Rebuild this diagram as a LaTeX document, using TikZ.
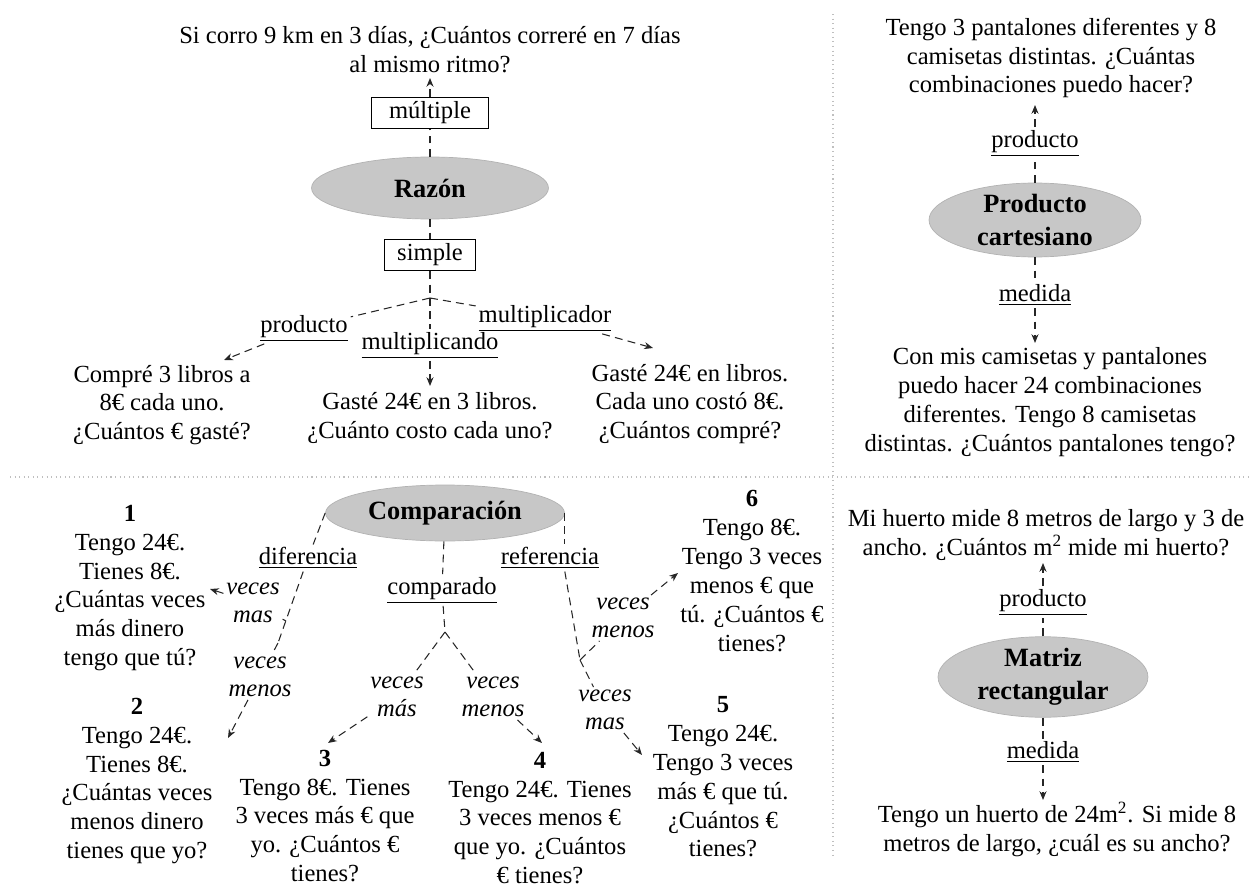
\documentclass[tikz,border=0pt]{standalone}
\usepackage{fontspec}
\setmainfont{Liberation Serif}
\usepackage{tikz}
\usetikzlibrary{shapes.geometric, arrows.meta}

\begin{document}
\begin{tikzpicture}[x=0.02cm, y=-0.02cm, every node/.style={font=\fontsize{14}{16.4}\selectfont, align=center, inner sep=1.5pt}]
    \tikzset{
        elipse/.style={ellipse, fill=black!22, draw=black!30, inner sep=0pt, font=\fontsize{15}{18.7}\selectfont\bfseries},
        caja/.style={draw, line width=1.1pt, minimum height=0.62cm, inner xsep=6pt},
        linea/.style={dash pattern=on 4.5pt off 3pt, line width=0.6pt, black!85},
        flecha/.style={linea, -{Stealth[length=5pt, width=4pt]}},
        veces/.style={font=\fontsize{14}{16}\selectfont\itshape},
        divisor/.style={black!25, dotted, line width=0.6pt}
    }
    \useasboundingbox (0,0) rectangle (1249,889);

    % Trennlinien
    \draw[divisor] (10,477) -- (1249,477);
    \draw[divisor] (833,14) -- (833,858);

    % --- Razon ---
    \node (q1) at (430,50) {Si corro 9 km en 3 días, ¿Cuántos correré en 7 días\\al mismo ritmo?};
    \coordinate (q1p) at (430,78);
    \node[caja, minimum width=2.34cm] (mul) at (430,113) {múltiple};
    \node[elipse, minimum width=4.74cm, minimum height=1.24cm] (raz) at (430,188) {Razón};
    \node[caja, minimum width=1.82cm] (sim) at (430,255) {simple};
    \coordinate (bp) at (430,298);
    \node (lprod) at (304,328) {\underline{producto}};
    \node (lmcdo) at (430,345) {\underline{multiplicando}};
    \node (lmcdr) at (545,318) {\underline{multiplicador}};
    \coordinate (pA) at (224,360);
    \coordinate (pB) at (430,386);
    \coordinate (pC) at (653,348);
    \node (tA) at (162,405) {Compré 3 libros a\\8€ cada uno.\\¿Cuántos € gasté?};
    \node (tB) at (430,418) {Gasté 24€ en 3 libros.\\¿Cuánto costo cada uno?};
    \node (tC) at (690,404) {Gasté 24€ en libros.\\Cada uno costó 8€.\\¿Cuántos compré?};

    \draw[flecha] (raz) -- (mul) -- (q1p);
    \draw[linea] (raz) -- (sim) -- (bp);
    \draw[flecha] (bp) -- (lprod) -- (pA);
    \draw[flecha] (bp) -- (lmcdo) -- (pB);
    \draw[flecha] (bp) -- (lmcdr) -- (pC);

    % --- Producto cartesiano ---
    \node (q2) at (1051,58) {Tengo 3 pantalones diferentes y 8\\camisetas distintas. ¿Cuántas\\combinaciones puedo hacer?};
    \coordinate (q2p) at (1035,105);
    \node (lpr2) at (1035,143) {\underline{producto}};
    \node[elipse, minimum width=4.24cm, minimum height=1.48cm] (pcart) at (1035,220) {Producto\\cartesiano};
    \node (lmed2) at (1035,295) {\underline{medida}};
    \coordinate (r2p) at (1035,343);
    \node (r2) at (1050,402) {Con mis camisetas y pantalones\\puedo hacer 24 combinaciones\\diferentes. Tengo 8 camisetas\\distintas. ¿Cuántos pantalones tengo?};

    \draw[flecha] (pcart) -- (lpr2) -- (q2p);
    \draw[flecha] (pcart) -- (lmed2) -- (r2p);

    % --- Matriz rectangular ---
    \node (q3) at (1046,535) {Mi huerto mide 8 metros de largo y 3 de\\ancho. ¿Cuántos m\textsuperscript{2} mide mi huerto?};
    \coordinate (q3p) at (1043,563);
    \node (lpr3) at (1043,602) {\underline{producto}};
    \node[elipse, minimum width=4.2cm, minimum height=1.54cm] (matr) at (1043,677) {Matriz\\rectangular};
    \node (lmed3) at (1043,752) {\underline{medida}};
    \coordinate (r3p) at (1043,800);
    \node (r3) at (1057,829) {Tengo un huerto de 24m\textsuperscript{2}. Si mide 8\\metros de largo, ¿cuál es su ancho?};

    \draw[flecha] (matr) -- (lpr3) -- (q3p);
    \draw[flecha] (matr) -- (lmed3) -- (r3p);

    % --- Comparacion ---
    \node[elipse, minimum width=4.78cm, minimum height=1.12cm] (comp) at (445,513) {Comparación};
    \node (ldif) at (308,558) {\underline{diferencia}};
    \node (lcmp) at (442,590) {\underline{comparado}};
    \node (lref) at (550,558) {\underline{referencia}};
    \coordinate (cB) at (286,621);
    \coordinate (cD) at (278,643);
    \coordinate (cC) at (445,632);
    \coordinate (cR) at (580,660);

    \node[veces] (v1) at (253,603) {veces\\mas};
    \node[veces] (v2) at (260,677) {veces\\menos};
    \node[veces] (v3) at (397,697) {veces\\más};
    \node[veces] (v4) at (493,697) {veces\\menos};
    \node[veces] (v6) at (623,618) {veces\\menos};
    \node[veces] (v5) at (605,710) {veces\\mas};

    \coordinate (p1) at (210,589);
    \coordinate (p2) at (228,738);
    \coordinate (p3) at (328,743);
    \coordinate (p4) at (542,743);
    \coordinate (p5) at (642,755);
    \coordinate (p6) at (678,573);

    \node (b1) at (130,588) {\textbf{1}\\Tengo 24€.\\Tienes 8€.\\¿Cuántas veces\\más dinero\\tengo que tú?};
    \node (b2) at (137,781) {\textbf{2}\\Tengo 24€.\\Tienes 8€.\\¿Cuántas veces\\menos dinero\\tienes que yo?};
    \node (b3) at (325,816) {\textbf{3}\\Tengo 8€. Tienes\\3 veces más € que\\yo. ¿Cuántos €\\tienes?};
    \node (b4) at (540,818) {\textbf{4}\\Tengo 24€. Tienes\\3 veces menos €\\que yo. ¿Cuántos\\€ tienes?};
    \node (b5) at (723,777) {\textbf{5}\\Tengo 24€.\\Tengo 3 veces\\más € que tú.\\¿Cuántos €\\tienes?};
    \node (b6) at (752,571) {\textbf{6}\\Tengo 8€.\\Tengo 3 veces\\menos € que\\tú. ¿Cuántos €\\tienes?};

    \draw[linea] (comp.west) -- (ldif) -- (cD);
    \draw[flecha] (cD) -- (v2) -- (p2);
    \draw[flecha] (cB) -- (v1) -- (p1);
    \draw[linea] (comp) -- (lcmp) -- (cC);
    \draw[flecha] (cC) -- (v3) -- (p3);
    \draw[flecha] (cC) -- (v4) -- (p4);
    \draw[linea] (comp.east) -- (lref.north -| comp.east);
    \draw[linea] (lref.south -| comp.east) -- (cR);
    \draw[flecha] (cR) -- (v6) -- (p6);
    \draw[flecha] (cR) -- (v5) -- (p5);

\end{tikzpicture}
\end{document}
